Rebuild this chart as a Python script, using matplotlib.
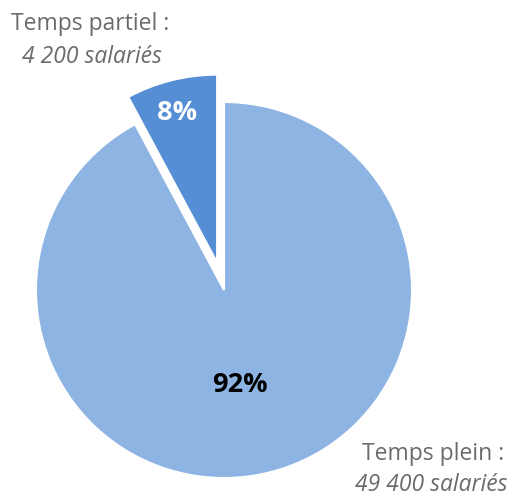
import matplotlib
matplotlib.use("Agg")
import matplotlib.pyplot as plt

categories = ["Temps plein", "Temps partiel"]
salaries = [49400, 4200]
count_labels = ["49 400 salariés", "4 200 salariés"]
pct_labels = ["92%", "8%"]
colors = ["#8EB4E3", "#558ED5"]

W, H = 517, 496
fig = plt.figure(figsize=(W / 100, H / 100), dpi=100)
ax = fig.add_axes([0, 0, 1, 1])
cx, cy, r = 224, 290, 188

wedges, _ = ax.pie(salaries, colors=colors, startangle=90, counterclock=False,
                   explode=[0, 0.15], radius=1,
                   wedgeprops=dict(edgecolor="white", linewidth=1.5))
ax.set_xlim(-cx / r, (W - cx) / r)
ax.set_ylim(-(H - cy) / r, cy / r)
ax.set_aspect("equal")
ax.axis("off")

font = "Open Sans"
fig.text(177 / W, 1 - 113 / H, pct_labels[1], color="white", fontsize=19.5,
         fontweight="bold", ha="center", va="center", family=font)
fig.text(240 / W, 1 - 385 / H, pct_labels[0], color="black", fontsize=19.5,
         fontweight="bold", ha="center", va="center", family=font)

grey = "#6B6B6B"
fs = 16.5
fig.text(90 / W, 1 - 24 / H, categories[1] + " :", color=grey, fontsize=fs,
         ha="center", va="center", family=font)
fig.text(92 / W, 1 - 57 / H, count_labels[1], color=grey, fontsize=fs,
         style="italic", ha="center", va="center", family=font)
fig.text(433 / W, 1 - 454 / H, categories[0] + " :", color=grey, fontsize=fs,
         ha="center", va="center", family=font)
fig.text(431 / W, 1 - 485 / H, count_labels[0], color=grey, fontsize=fs,
         style="italic", ha="center", va="center", family=font)

fig.savefig("out.png", dpi=100)
